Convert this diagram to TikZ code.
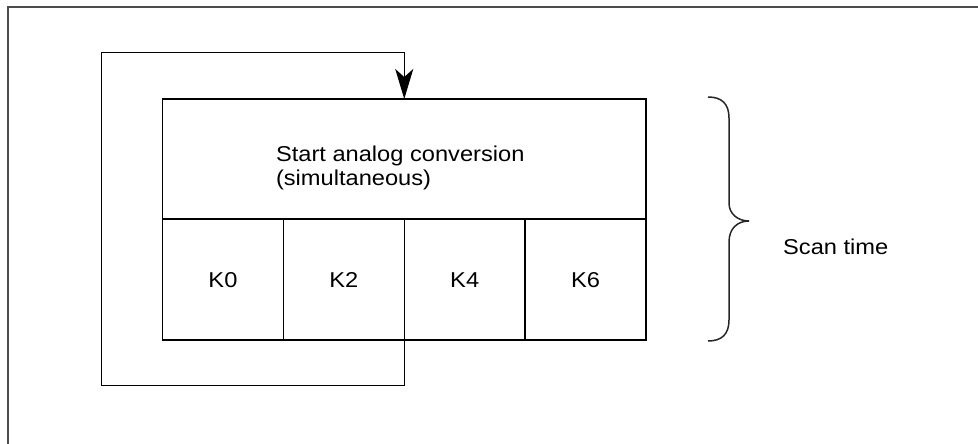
\documentclass[tikz,border=0pt]{standalone}
\usepackage{fontspec}
\setmainfont[FakeStretch=1.1]{Liberation Sans}
\usetikzlibrary{positioning,arrows.meta}
\tikzset{
  txt/.style={font=\fontsize{21.5}{23.5}\selectfont},
  cell/.style={draw, line width=1.5pt, minimum width=120.875pt, minimum height=121pt,
    inner sep=0pt, outer sep=0pt, text height=15.5pt, text depth=0.5pt, txt},
  convbox/.style={draw, line width=1.5pt, minimum width=483.5pt, minimum height=120pt,
    inner sep=0pt, outer sep=0pt},
  flow/.style={line width=1.5pt, -{Stealth[length=30pt, width=18pt, inset=8pt]}},
}
\begin{document}
\begin{tikzpicture}[x=1pt, y=-1pt]
\useasboundingbox (0,0) rectangle (978,444);
% frame
\draw[line width=2pt, black!70] (8.3,444) -- (8.3,6.7) -- (978,6.7);
% conversion box and channels
\node[convbox] (conv) at (404.25,159) {};
\node[txt, align=left, inner sep=0pt] (convtext) at ([xshift=-4pt, yshift=-9pt]conv.center)
  {Start analog conversion\\(simultaneous)};
\node[cell, anchor=north west] (k0) at (conv.south west) {K0};
\node[cell, right=0pt of k0] (k2) {K2};
\node[cell, right=0pt of k2] (k4) {K4};
\node[cell, right=0pt of k4] (k6) {K6};
% loop back
\coordinate (loopbl) at (101.5,385.7);
\coordinate (looptl) at (101.5,52.5);
\draw[flow] (k2.south east) |- (loopbl) -- (looptl) -| (conv.north);
% brace
\draw[line width=1.5pt, black!85] (708,97) .. controls (722,97) and (729,104) .. (729,118)
  -- (729,203) .. controls (729,214) and (738,221) .. (749,221)
  .. controls (738,221) and (729,228) .. (729,242)
  -- (729,320) .. controls (729,334) and (722,341) .. (708,341);
\node[txt, anchor=west, inner sep=0pt] (scan) at (783,246.5) {Scan time};
\end{tikzpicture}
\end{document}
